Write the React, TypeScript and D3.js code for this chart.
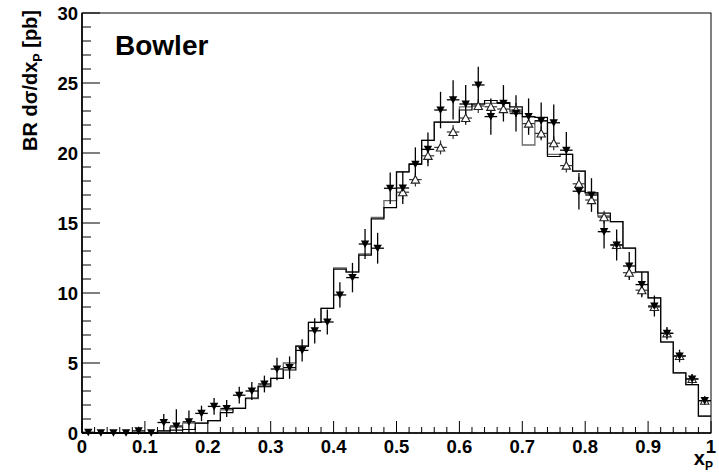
import React from "react";
import * as d3 from "d3";

// ---- data ----
const xCenters = [
  0.01, 0.03, 0.05, 0.07, 0.09, 0.11, 0.13, 0.15, 0.17, 0.19,
  0.21, 0.23, 0.25, 0.27, 0.29, 0.31, 0.33, 0.35, 0.37, 0.39,
  0.41, 0.43, 0.45, 0.47, 0.49, 0.51, 0.53, 0.55, 0.57, 0.59,
  0.61, 0.63, 0.65, 0.67, 0.69, 0.71, 0.73, 0.75, 0.77, 0.79,
  0.81, 0.83, 0.85, 0.87, 0.89, 0.91, 0.93, 0.95, 0.97, 0.99,
];
const binHalfWidth = 0.01;

const histBlack = [
  0, 0, 0, 0, 0, 0, 0.15, 0.2, 0.25, 0.7,
  0.88, 1.45, 1.75, 2.5, 3.35, 3.9, 4.5, 6.2, 7.9, 8.9,
  11.7, 11.5, 12.7, 15.3, 16.1, 18.65, 19.2, 20.9, 22.2, 22.2,
  23.07, 23.5, 23.75, 23.6, 23.3, 22.6, 22.55, 19.75, 19.9, 18.7,
  17.15, 15.7, 15.1, 13.2, 11.5, 9.65, 6.5, 4.3, 3.45, 1.2,
];
const histGray = [
  0, 0, 0, 0, 0, 0, 0.15, 0.42, 0.7, 0.7,
  0.88, 1.65, 1.8, 2.45, 3.3, 3.9, 5.0, 6.2, 7.9, 8.9,
  11.8, 11.5, 12.8, 15.4, 16.6, 18.65, 19.2, 20.9, 22.2, 22.2,
  23.3, 23.5, 23.55, 23.6, 22.95, 20.57, 22.3, 19.9, 19.9, 18.7,
  17.15, 15.5, 15.1, 13.2, 11.5, 9.65, 6.5, 4.3, 3.45, 1.2,
];

const downValues = [
  0.05, 0.02, 0.02, 0.02, 0.15, 0.02, 0.75, 0.5, 0.8, 1.4,
  1.9, 1.75, 2.7, 3.0, 3.5, 4.57, 4.67, 5.9, 7.3, 7.93,
  9.86, 11.1, 13.5, 13.2, 17.48, 17.5, 19.2, 20.26, 23.07, 23.8,
  23.5, 24.86, 22.6, 23.55, 22.83, 22.6, 22.3, 22.16, 20.2, 17.27,
  17.0, 14.38, 13.43, 11.93, 10.6, 9.07, 7.12, 5.5, 3.86, 2.31,
];
const downErrors = [
  0.05, 0.05, 0.05, 0.05, 0.3, 0.05, 0.6, 1.2, 0.8, 0.55,
  0.6, 0.6, 0.6, 0.65, 0.6, 0.8, 0.8, 0.8, 0.9, 0.9,
  0.9, 1.05, 1.07, 1.1, 1.13, 1.15, 1.2, 1.2, 1.3, 1.4,
  1.35, 1.3, 1.3, 1.3, 1.3, 1.3, 1.3, 1.3, 1.3, 1.3,
  1.2, 1.2, 1.1, 1.0, 0.9, 0.75, 0.45, 0.45, 0.35, 0.3,
];

const upX = [
  0.51, 0.53, 0.55, 0.57, 0.59, 0.61, 0.63, 0.65, 0.67, 0.69,
  0.71, 0.73, 0.75, 0.77, 0.79, 0.81, 0.83, 0.85, 0.87, 0.89,
  0.91, 0.93, 0.95, 0.97, 0.99,
];
const upValues = [
  17.2, 18.1, 19.8, 20.4, 21.5, 22.5, 23.36, 23.3, 23.14, 23.07,
  22.1, 21.4, 20.7, 19.1, 17.8, 16.64, 15.42, 13.43, 11.45, 10.2,
  9.0, 7.12, 5.5, 3.86, 2.31,
];
const upErrors = [
  0.5, 0.5, 0.5, 0.5, 0.5, 0.5, 0.5, 0.5, 0.5, 0.5,
  0.5, 0.5, 0.5, 0.5, 0.5, 0.45, 0.45, 0.45, 0.4, 0.4,
  0.35, 0.35, 0.3, 0.3, 0.25,
];

const xTickLabels = ["0", "0.1", "0.2", "0.3", "0.4", "0.5", "0.6", "0.7", "0.8", "0.9", "1"];
const yTickLabels = ["0", "5", "10", "15", "20", "25", "30"];

// ---- layout ----
const W = 719;
const H = 474;
const x = d3.scaleLinear().domain([0, 1]).range([82, 711]);
const y = d3.scaleLinear().domain([0, 30]).range([433, 13]);
const FONT = "'Liberation Sans', Arial, Helvetica, sans-serif";

function stepPath(vals: number[]): string {
  const p = d3.path();
  p.moveTo(x(0), y(0));
  vals.forEach((v, i) => {
    const lo = xCenters[i] - binHalfWidth;
    const hi = xCenters[i] + binHalfWidth;
    p.lineTo(x(lo), y(v));
    p.lineTo(x(hi), y(v));
  });
  return p.toString();
}

function triDown(cx: number, cy: number, s = 4.2) {
  return `M${cx - s},${cy - s * 0.85}L${cx + s},${cy - s * 0.85}L${cx},${cy + s * 0.95}Z`;
}
function triUp(cx: number, cy: number, s = 4.2) {
  return `M${cx - s},${cy + s * 0.85}L${cx + s},${cy + s * 0.85}L${cx},${cy - s * 0.95}Z`;
}

export default function App() {
  const yMinor = d3.range(0, 31, 1).filter((v) => v % 5 !== 0);
  const yMajor = d3.range(0, 31, 5);
  const xMajor = d3.range(0, 11, 1).map((i) => i / 10);
  const xMinor = d3.range(0, 51, 1).filter((i) => i % 5 !== 0).map((i) => i / 50);

  return (
    <svg
      width={W}
      height={H}
      style={{ position: "absolute", left: 0, top: 0, background: "#fff" }}
      fontFamily={FONT}
    >
      <rect x={0} y={0} width={W} height={H} fill="#fff" />

      {/* histograms */}
      <path d={stepPath(histGray)} fill="none" stroke="#6a6a6a" strokeWidth={1.3} />
      <path d={stepPath(histBlack)} fill="none" stroke="#000" strokeWidth={1.2} />

      {/* open triangle series */}
      {upX.map((cx, i) => {
        const v = upValues[i];
        const e = upErrors[i];
        return (
          <g key={"u" + i} stroke="#333" strokeWidth={1.2}>
            <line x1={x(cx)} x2={x(cx)} y1={y(Math.max(0, v - e))} y2={y(v + e)} />
            <line x1={x(cx - binHalfWidth)} x2={x(cx + binHalfWidth)} y1={y(v)} y2={y(v)} />
          </g>
        );
      })}

      {/* filled down-triangle series */}
      {xCenters.map((cx, i) => {
        const v = downValues[i];
        const e = downErrors[i];
        return (
          <g key={"d" + i} stroke="#000" strokeWidth={1.3}>
            <line x1={x(cx)} x2={x(cx)} y1={y(Math.max(0, v - e))} y2={y(v + e)} />
            <line x1={x(cx - binHalfWidth)} x2={x(cx + binHalfWidth)} y1={y(v)} y2={y(v)} />
          </g>
        );
      })}
      {upX.map((cx, i) => (
        <path key={"um" + i} d={triUp(x(cx), y(upValues[i]))} fill="#fff" stroke="#222" strokeWidth={1.1} />
      ))}
      {xCenters.map((cx, i) => (
        <path key={"dm" + i} d={triDown(x(cx), y(downValues[i]))} fill="#000" stroke="none" />
      ))}

      {/* frame */}
      <rect x={x(0)} y={y(30)} width={x(1) - x(0)} height={y(0) - y(30)} fill="none" stroke="#000" strokeWidth={1} />

      {/* y ticks */}
      {yMajor.map((v) => (
        <line key={"ym" + v} x1={x(0)} x2={x(0) + 18} y1={y(v)} y2={y(v)} stroke="#000" strokeWidth={1} />
      ))}
      {yMinor.map((v) => (
        <line key={"yn" + v} x1={x(0)} x2={x(0) + 9} y1={y(v)} y2={y(v)} stroke="#000" strokeWidth={1} />
      ))}
      {/* x ticks */}
      {xMajor.map((v) => (
        <line key={"xm" + v} x1={x(v)} x2={x(v)} y1={y(0)} y2={y(0) - 12} stroke="#000" strokeWidth={1} />
      ))}
      {xMinor.map((v) => (
        <line key={"xn" + v} x1={x(v)} x2={x(v)} y1={y(0)} y2={y(0) - 6} stroke="#000" strokeWidth={1} />
      ))}
      {/* axis lines thicker */}
      <line x1={x(0)} x2={x(1)} y1={y(0)} y2={y(0)} stroke="#000" strokeWidth={1.6} />
      <line x1={x(0)} x2={x(0)} y1={y(0)} y2={y(30)} stroke="#000" strokeWidth={1.6} />

      {/* tick labels */}
      {yTickLabels.map((t, i) => (
        <text
          key={"yl" + t}
          x={x(0) - 4}
          y={y(yMajor[i])}
          dy="0.36em"
          textAnchor="end"
          fontSize={18.5}
          fontWeight="bold"
        >
          {t}
        </text>
      ))}
      {xTickLabels.map((t, i) => (
        <text key={"xl" + t} x={x(xMajor[i])} y={453} textAnchor="middle" fontSize={18.5} fontWeight="bold">
          {t}
        </text>
      ))}

      {/* axis titles */}
      <text transform="translate(37,10) rotate(-90)" textAnchor="end" fontSize={20} fontWeight="bold">
        <tspan>BR dσ/dx</tspan>
        <tspan dy={5} fontSize={12.5}>P</tspan>
        <tspan dy={-5}> [pb]</tspan>
      </text>
      <text x={713} y={465} textAnchor="end" fontSize={20} fontWeight="bold">
        <tspan>x</tspan>
        <tspan dy={5} fontSize={12}>P</tspan>
      </text>

      <text x={115} y={55} fontSize={28} fontWeight="bold">
        Bowler
      </text>
    </svg>
  );
}
